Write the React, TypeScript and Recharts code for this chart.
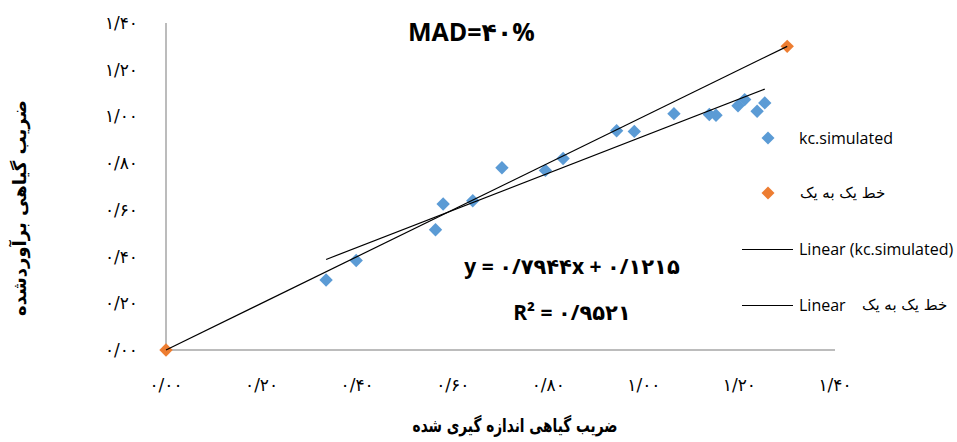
import React from 'react';
import { ScatterChart, Scatter, XAxis, YAxis } from 'recharts';

// measured kc (x) vs simulated kc (y)
const simX = [0.335, 0.398, 0.564, 0.58, 0.642, 0.703, 0.794, 0.831, 0.943, 0.98, 1.063, 1.137, 1.151, 1.197, 1.211, 1.237, 1.253];
const simY = [0.3, 0.383, 0.515, 0.625, 0.639, 0.78, 0.769, 0.82, 0.939, 0.936, 1.012, 1.008, 1.005, 1.046, 1.072, 1.022, 1.058];

// 1:1 line points
const oneX = [0, 1.3];
const oneY = [0, 1.3];

// regression shown on the chart
const slope = 0.7944;
const intercept = 0.1215;

const ticks = [0, 0.2, 0.4, 0.6, 0.8, 1.0, 1.2, 1.4];
const tickLabels = ['۰/۰۰', '۰/۲۰', '۰/۴۰', '۰/۶۰', '۰/۸۰', '۱/۰۰', '۱/۲۰', '۱/۴۰'];

const BLUE = '#5b9bd5';
const ORANGE = '#ed7d31';

const simData = simX.map((x, i) => ({ x, y: simY[i] }));
const oneData = oneX.map((x, i) => ({ x, y: oneY[i] }));
const minX = Math.min(...simX);
const maxX = Math.max(...simX);
const trendData = [
  { x: minX, y: slope * minX + intercept },
  { x: maxX, y: slope * maxX + intercept },
];

const fmt = (v: number) => tickLabels[ticks.findIndex((t) => Math.abs(t - v) < 1e-6)] ?? '';

const diamond = (color: string, r: number) => (props: any) => {
  const { cx, cy } = props;
  return (
    <polygon
      points={`${cx},${cy - r} ${cx + r},${cy} ${cx},${cy + r} ${cx - r},${cy}`}
      fill={color}
    />
  );
};

const noShape = () => <g />;

const abs = (left: number, top: number, extra: React.CSSProperties = {}): React.CSSProperties => ({
  position: 'absolute',
  left,
  top,
  transform: 'translate(0,-50%)',
  whiteSpace: 'nowrap',
  ...extra,
});

export default function App() {
  const latin = "'Open Sans', 'DejaVu Sans', sans-serif";
  const tickStyle = { fill: '#000', fontSize: 17, fontFamily: 'DejaVu Sans' };
  return (
    <div style={{ position: 'absolute', left: 0, top: 0, width: 957, height: 442, background: '#fff', fontFamily: latin }}>
      <ScatterChart width={957} height={442} margin={{ top: 23, right: 122, bottom: 62, left: 106 }}>
        <XAxis
          type="number"
          dataKey="x"
          domain={[0, 1.4]}
          ticks={ticks}
          tickFormatter={fmt}
          height={30}
          tickLine={false}
          tickMargin={23}
          axisLine={{ stroke: '#a6a6a6', strokeWidth: 1.5 }}
          tick={tickStyle}
          interval={0}
        />
        <YAxis
          type="number"
          dataKey="y"
          domain={[0, 1.4]}
          ticks={ticks}
          tickFormatter={fmt}
          width={60}
          tickLine={false}
          tickMargin={22}
          axisLine={{ stroke: '#a6a6a6', strokeWidth: 1.5 }}
          tick={tickStyle}
          interval={0}
        />
        <Scatter data={simData} shape={diamond(BLUE, 6.7)} isAnimationActive={false} />
        <Scatter data={oneData} shape={diamond(ORANGE, 6.7)} isAnimationActive={false} />
        <Scatter
          data={trendData}
          line={{ stroke: '#000', strokeWidth: 1.2 }}
          shape={noShape}
          isAnimationActive={false}
        />
        <Scatter
          data={oneData}
          line={{ stroke: '#000', strokeWidth: 1.2 }}
          shape={noShape}
          isAnimationActive={false}
        />
      </ScatterChart>

      {/* title */}
      <div style={abs(408, 31, { fontSize: 25, fontWeight: 'bold' })}>MAD=۴۰%</div>

      {/* equation */}
      <div style={abs(572, 266, { transform: 'translate(-50%,-50%)', fontSize: 21, fontWeight: 'bold' })}>
        y = ۰/۷۹۴۴x + ۰/۱۲۱۵
      </div>
      <div style={abs(572, 312, { transform: 'translate(-50%,-50%)', fontSize: 21, fontWeight: 'bold' })}>
        R² = ۰/۹۵۲۱
      </div>

      {/* axis titles */}
      <div style={abs(515, 425, { transform: 'translate(-50%,-50%) scaleX(0.72)', fontSize: 19, fontWeight: 'bold', fontFamily: 'DejaVu Sans', direction: 'rtl' })}>
        ضریب گیاهی اندازه گیری شده
      </div>
      <div
        style={{
          position: 'absolute',
          left: 19,
          top: 208,
          transform: 'translate(-50%,-50%) rotate(-90deg)',
          whiteSpace: 'nowrap',
          fontSize: 18,
          fontWeight: 'bold',
          fontFamily: 'DejaVu Sans',
          direction: 'rtl',
        }}
      >
        ضریب گیاهی برآوردشده
      </div>

      {/* legend */}
      <svg width={957} height={442} style={{ position: 'absolute', left: 0, top: 0, pointerEvents: 'none' }}>
        <polygon points="768,131.5 774.5,138 768,144.5 761.5,138" fill={BLUE} />
        <polygon points="768,186.5 774.5,193 768,199.5 761.5,193" fill={ORANGE} />
        <line x1={742} y1={249.5} x2={793} y2={249.5} stroke="#000" strokeWidth={1} />
        <line x1={742} y1={305.5} x2={793} y2={305.5} stroke="#000" strokeWidth={1} />
      </svg>
      <div style={abs(799, 138, { fontSize: 16 })}>kc.simulated</div>
      <div style={abs(800, 193, { fontSize: 15, fontFamily: 'DejaVu Sans', direction: 'rtl' })}>خط یک به یک</div>
      <div style={abs(799, 249, { fontSize: 16 })}>Linear (kc.simulated)</div>
      <div style={abs(799, 305, { fontSize: 16 })}>Linear</div>
      <div style={abs(862, 305, { fontSize: 15, fontFamily: 'DejaVu Sans', direction: 'rtl' })}>خط یک به یک</div>
    </div>
  );
}
